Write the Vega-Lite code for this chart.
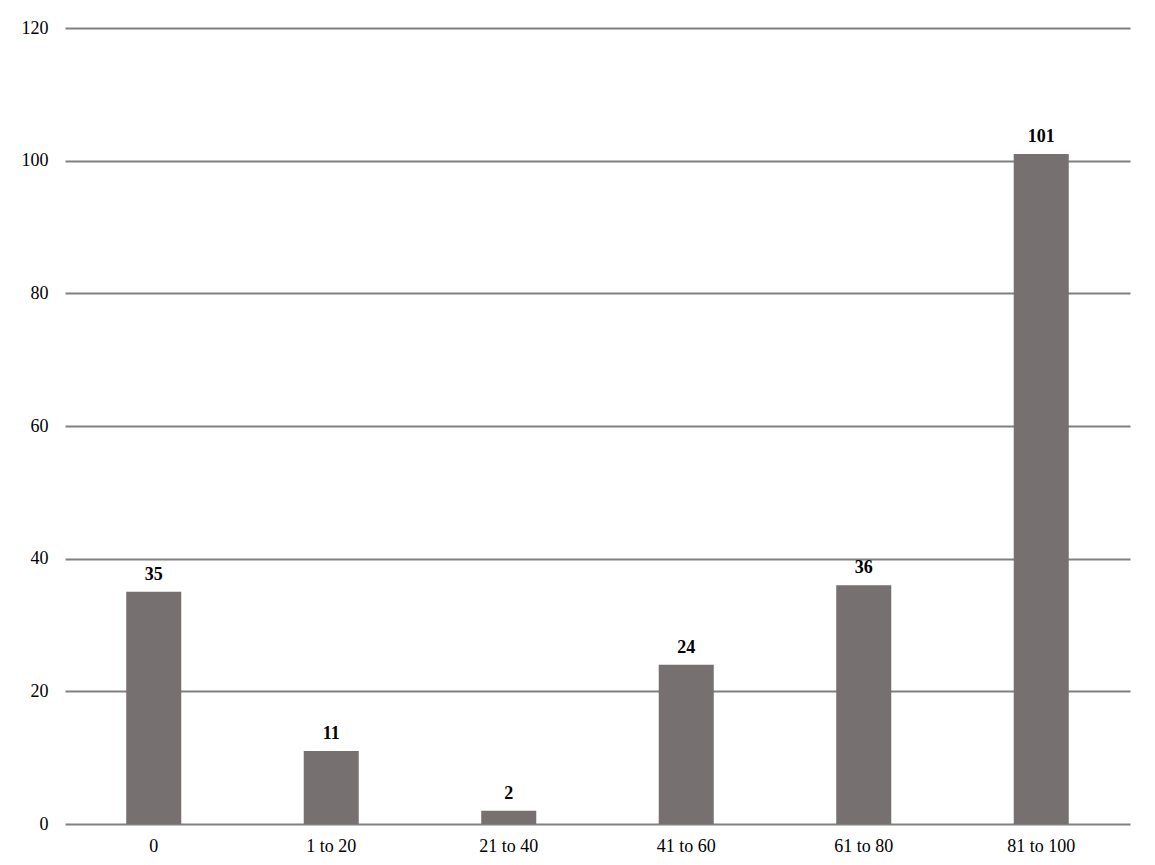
{
  "$schema": "https://vega.github.io/schema/vega-lite/v6.json",
  "autosize": "none",
  "width": 1065,
  "height": 796,
  "padding": {"left": 65, "top": 28, "right": 25, "bottom": 41},
  "background": "white",
  "config": {
    "view": {"stroke": null},
    "font": "Liberation Serif",
    "axis": {
      "labelFont": "Liberation Serif",
      "labelFontSize": 18,
      "labelColor": "black",
      "ticks": false,
      "domain": false
    }
  },
  "data": {
    "values": [
      {"range": "0", "count": 35},
      {"range": "1 to 20", "count": 11},
      {"range": "21 to 40", "count": 2},
      {"range": "41 to 60", "count": 24},
      {"range": "61 to 80", "count": 36},
      {"range": "81 to 100", "count": 101}
    ]
  },
  "encoding": {
    "x": {
      "field": "range",
      "type": "nominal",
      "sort": null,
      "scale": {"paddingInner": 0.69, "paddingOuter": 0.345},
      "axis": {"title": null, "labelAngle": 0, "labelPadding": 13, "grid": false}
    },
    "y": {
      "field": "count",
      "type": "quantitative",
      "scale": {"domain": [0, 120]},
      "axis": {
        "title": null,
        "values": [0, 20, 40, 60, 80, 100, 120],
        "grid": true,
        "gridColor": "#808080",
        "gridWidth": 2,
        "gridOpacity": 1,
        "labelPadding": 17
      }
    }
  },
  "layer": [
    {"mark": {"type": "bar", "color": "#767170"}},
    {
      "mark": {"type": "text", "baseline": "bottom", "dy": -8, "fontWeight": "bold", "fontSize": 18, "color": "black"},
      "encoding": {"text": {"field": "count", "type": "quantitative"}}
    }
  ]
}
